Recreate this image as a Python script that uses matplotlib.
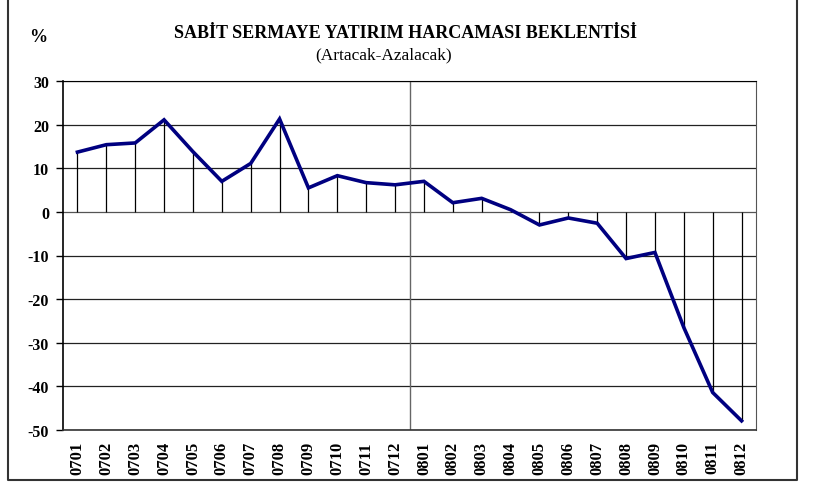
import matplotlib.pyplot as plt
from matplotlib.lines import Line2D

# Data
months = ['0701', '0702', '0703', '0704', '0705', '0706', '0707', '0708',
          '0709', '0710', '0711', '0712', '0801', '0802', '0803', '0804',
          '0805', '0806', '0807', '0808', '0809', '0810', '0811', '0812']
values = [13.7, 15.4, 15.8, 21.1, 13.8, 7.0, 11.1, 21.3,
          5.5, 8.3, 6.7, 6.2, 7.0, 2.1, 3.1, 0.5,
          -3.0, -1.4, -2.6, -10.7, -9.3, -26.5, -41.4, -47.9]
y_ticks = [-50, -40, -30, -20, -10, 0, 10, 20, 30]

plt.rcParams['font.family'] = ['Liberation Serif', 'DejaVu Serif']

W, H = 814, 485
fig = plt.figure(figsize=(W / 100, H / 100), dpi=100)
ax = fig.add_axes([63 / W, 1 - 431 / H, (756 - 63) / W, (431 - 82) / H])

x = list(range(len(months)))

# grid lines
for t in y_ticks:
    ax.axhline(t, color='#222222' if t != 0 else '#555555', lw=0.9, zorder=1)

# year separator
ax.axvline(11.5, color='#666666', lw=1.0, zorder=1)

# drop lines to zero
ax.vlines(x, 0, values, color='black', lw=0.9, zorder=2)

ax.plot(x, values, color='#000080', lw=2.6, zorder=3, solid_joinstyle='miter')

ax.set_xlim(-0.5, len(months) - 0.5)
ax.set_ylim(-50, 30)
ax.set_yticks(y_ticks)
ax.set_yticklabels([str(t) for t in y_ticks], fontsize=11.5, fontweight='bold')
ax.set_xticks(x)
ax.set_xticklabels(months, rotation=90, fontsize=12, fontweight='bold')
ax.tick_params(axis='x', length=0, pad=8)
ax.tick_params(axis='y', length=5, width=1, pad=5)

ax.spines['left'].set_color('black')
ax.spines['left'].set_linewidth(1.2)
ax.spines['bottom'].set_color('#333333')
ax.spines['bottom'].set_linewidth(1.2)
ax.spines['top'].set_color('black')
ax.spines['right'].set_color('#555555')

fig.text(405 / W, 1 - 33 / H, 'SABİT SERMAYE YATIRIM HARCAMASI BEKLENTİSİ',
         ha='center', va='center', fontsize=13, fontweight='bold')
fig.text(384 / W, 1 - 55 / H, '(Artacak-Azalacak)',
         ha='center', va='center', fontsize=12.5)
fig.text(38 / W, 1 - 38 / H, '%', ha='center', va='center',
         fontsize=13, fontweight='bold')

# outer frame (left, bottom, right; top is cut off)
fx = [8 / W, 8 / W, 797 / W, 797 / W]
fy = [1.0, 1 - 481 / H, 1 - 481 / H, 1.0]
fig.lines.append(Line2D(fx, fy, transform=fig.transFigure,
                        color='#333333', lw=1.5))

fig.savefig('out.png', dpi=100)
